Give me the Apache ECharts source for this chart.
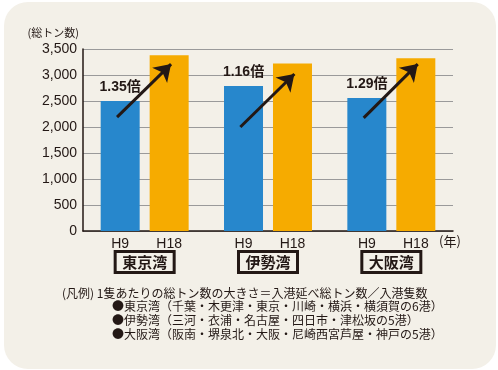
<!DOCTYPE html>
<html><head><meta charset="utf-8">
<script src="https://cdn.jsdelivr.net/npm/echarts@6/dist/echarts.min.js"></script>
<style>html,body{margin:0;padding:0;background:#fff}#c{width:498px;height:370px}</style>
</head><body><div id="c"></div>
<script>
const categories = ['東京湾', '伊勢湾', '大阪湾'];
const yearLabels = ['H9', 'H18'];
const h9Values = [2500, 2790, 2560];
const h18Values = [3380, 3220, 3320];
const ratioLabels = ['1.35倍', '1.16倍', '1.29倍'];
const arrowFromValues = [2190, 2000, 2175];
const arrowToValues = [3210, 3020, 3210];
const yTicks = [0, 500, 1000, 1500, 2000, 2500, 3000, 3500];
const legendTitle = '(凡例) 1隻あたりの総トン数の大きさ＝入港延べ総トン数／入港隻数';
const legendLines = [
  '●東京湾（千葉・木更津・東京・川崎・横浜・横須賀の6港）',
  '●伊勢湾（三河・衣浦・名古屋・四日市・津松坂の5港）',
  '●大阪湾（阪南・堺泉北・大阪・尼崎西宮芦屋・神戸の5港）'
];

const INK = '#231815';
const FONT = '"Liberation Sans", Arial, "Noto Sans CJK JP", sans-serif';
const JFONT = '"Noto Sans CJK JP", sans-serif';

const chart = echarts.init(document.getElementById('c'), null, {renderer: 'canvas'});
const arrowData = categories.map((c, i) => ({
  coords: [[i + 0.276, arrowFromValues[i]], [i + 0.714, arrowToValues[i]]]
}));

chart.setOption({
  backgroundColor: '#ffffff',
  animation: false,
  graphic: [{
    type: 'rect', z: -10, silent: true,
    shape: {x: 4, y: 2, width: 492, height: 367, r: 24},
    style: {fill: '#F3F0E8'}
  }],
  title: [
    {text: legendTitle, left: 62, top: 286, padding: 0, textStyle: {fontFamily: JFONT, fontSize: 12, fontWeight: 'normal', color: INK, lineHeight: 14}},
    {text: legendLines.join('\n'), left: 112, top: 299, padding: 0, textStyle: {fontFamily: JFONT, fontSize: 12, fontWeight: 'normal', color: INK, lineHeight: 14}},
    {text: '(年)', left: 439, top: 234, padding: 0, textStyle: {fontFamily: JFONT, fontSize: 13, fontWeight: 'normal', color: INK, lineHeight: 15}}
  ],
  grid: {left: 83, top: 49, width: 370, height: 182},
  xAxis: [{
    type: 'category',
    data: categories,
    axisTick: {show: false},
    axisLine: {lineStyle: {color: INK, width: 1.5}},
    axisLabel: {
      margin: 5,
      interval: 0,
      formatter: v => '{y|' + yearLabels[0] + '}{y|' + yearLabels[1] + '}\n{box|' + v + '}',
      rich: {
        y: {width: 49, align: 'center', fontFamily: FONT, fontSize: 14, color: INK, lineHeight: 18, padding: [0, 0, 2, 0]},
        box: {fontFamily: JFONT, fontSize: 15, fontWeight: 'bold', color: INK, borderColor: INK, borderWidth: 1.5,
              padding: [3, 7, 3, 7], lineHeight: 16, backgroundColor: 'transparent'}
      }
    }
  }, {
    type: 'value', min: 0, max: 3, show: false
  }],
  yAxis: {
    type: 'value', min: 0, max: 3500, interval: 500,
    name: '(総トン数)', nameLocation: 'end', nameGap: 11,
    nameTextStyle: {fontFamily: JFONT, fontSize: 11, color: INK, align: 'right', padding: [0, 4, 0, 0]},
    axisLine: {show: true, lineStyle: {color: INK, width: 1.5}},
    axisTick: {show: false},
    axisLabel: {margin: 6, fontFamily: FONT, fontSize: 14, color: INK,
      formatter: v => yTicks.includes(v) ? v.toString().replace(/\B(?=(\d{3})+(?!\d))/g, ',') : ''},
    splitLine: {lineStyle: {color: '#9a9a9a', width: 1}}
  },
  series: [{
    name: 'H9', type: 'bar', data: h9Values, barWidth: 39, barGap: '25.6%',
    itemStyle: {color: '#2787CC'},
    label: {show: true, position: 'top', distance: 7, fontFamily: FONT, fontSize: 14, fontWeight: 'bold', color: INK,
      formatter: p => ratioLabels[p.dataIndex]}
  }, {
    name: 'H18', type: 'bar', data: h18Values, barWidth: 39,
    itemStyle: {color: '#F6AB00'}
  }, {
    type: 'lines', coordinateSystem: 'cartesian2d', xAxisIndex: 1, yAxisIndex: 0,
    data: arrowData, z: 10,
    symbol: ['none', 'arrow'], symbolSize: [13, 16],
    lineStyle: {color: INK, width: 3, opacity: 1, curveness: 0}
  }]
});
</script></body></html>
